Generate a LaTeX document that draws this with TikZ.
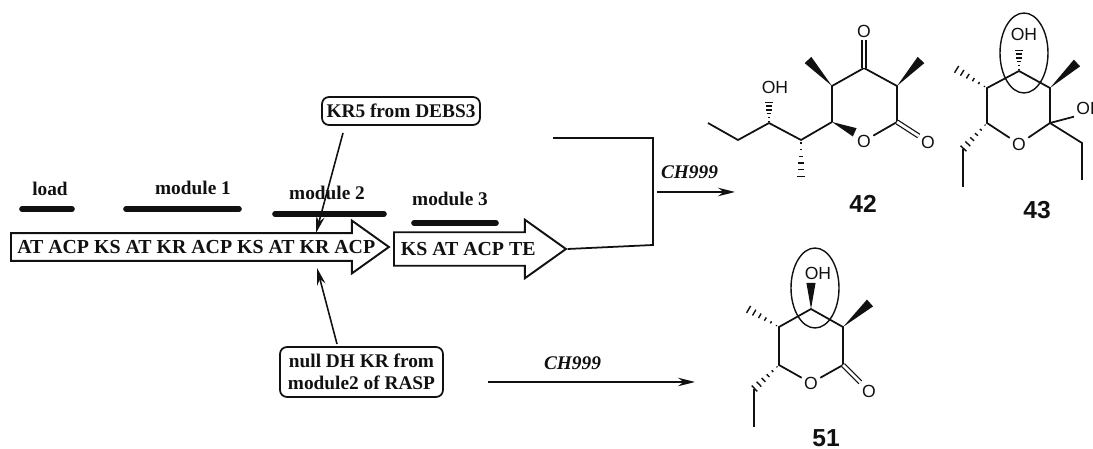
\documentclass[tikz,border=0pt]{standalone}
\usepackage{fontspec}
\setmainfont{Liberation Serif}
\setsansfont{Liberation Sans}
\usetikzlibrary{arrows.meta, positioning, calc, shapes.arrows, shapes.geometric}
\definecolor{Ink}{HTML}{111111}
\tikzset{
  genearrow/.style={draw=Ink, line width=1.1pt, single arrow, fill=white, align=center,
                    font=\fontsize{11.3}{13}\selectfont\bfseries, text=Ink, inner xsep=2pt, inner ysep=3.6pt,
                    single arrow tip angle=71, single arrow head indent=0pt},
  modbar/.style={line width=3.2pt, draw=Ink, line cap=round},
  modlab/.style={font=\fontsize{11}{13}\selectfont\bfseries, text=Ink},
  callbox/.style={draw=Ink, line width=1pt, rounded corners=4pt, align=center, inner sep=1.5pt,
                  font=\fontsize{11}{12.5}\selectfont\bfseries, text=Ink},
  thinarrow/.style={-{Stealth[length=3.4mm, width=1.7mm]}, line width=0.9pt, draw=Ink},
  hostlab/.style={font=\fontsize{11}{13}\selectfont\bfseries\itshape, text=Ink},
  atom/.style={font=\sffamily\fontsize{10}{12}\selectfont, text=Ink, inner sep=1.2pt},
  bond/.style={draw=Ink, line width=1pt},
  dblbond/.style={draw=Ink, line width=0.7pt, double, double distance=1.6pt},
  cmpd/.style={font=\sffamily\bfseries\fontsize{14}{15}\selectfont, text=Ink, inner sep=0pt},
  ringmark/.style={draw=Ink, line width=0.8pt, ellipse, minimum width=0.96cm, minimum height=1.6cm, inner sep=0pt},
}
\newcommand{\wedgebond}[2]{\fill[Ink] (#1) -- ($(#2)!2.6pt!90:(#1)$) -- ($(#2)!2.6pt!-90:(#1)$) -- cycle;}
\newcommand{\hashbond}[2]{%
  \foreach \t/\w in {0.08/0.3pt, 0.26/0.7pt, 0.44/1.1pt, 0.62/1.5pt, 0.80/1.9pt, 0.98/2.3pt}
    \draw[Ink, line width=0.8pt] ($(#1)!\t!(#2)!\w!90:(#2)$) -- ($(#1)!\t!(#2)!\w!-90:(#2)$);}
\begin{document}
\begin{tikzpicture}[x=0.02cm, y=-0.02cm]
  \useasboundingbox (0,0) rectangle (1093,449);
  % gene arrows
  \node[genearrow, anchor=west, minimum height=7.56cm, minimum width=1.02cm] (geneA) at (10,247)
    {\makebox[6.6cm][l]{\hspace*{-4.5pt}AT ACP KS AT KR ACP KS AT KR ACP}};
  \node[genearrow, anchor=west, minimum height=3.44cm, minimum width=1.12cm, inner ysep=5.2pt] (geneB) at (393,249)
    {KS AT ACP TE};
  % module bars
  \node[modlab] (lload) at (50,189) {load};
  \node[modlab] (lmodA) at (193,188) {module 1};
  \node[modlab] (lmodB) at (327,193) {module 2};
  \node[modlab] (lmodC) at (450,199) {module 3};
  \coordinate (loadL) at (22,209);  \coordinate (loadR) at (72,209);
  \coordinate (modAL) at (126,209); \coordinate (modAR) at (239,209);
  \coordinate (modBL) at (275,214); \coordinate (modBR) at (384,214);
  \coordinate (modCL) at (414,223); \coordinate (modCR) at (496,223);
  \draw[modbar] (loadL) -- (loadR);
  \draw[modbar] (modAL) -- (modAR);
  \draw[modbar] (modBL) -- (modBR);
  \draw[modbar] (modCL) -- (modCR);
  % swaps
  \node[callbox, minimum width=3.16cm, minimum height=0.56cm] (krfive) at (401,111) {KR5 from DEBS3};
  \node[callbox, minimum width=3.26cm, minimum height=1cm] (nulldh) at (361.5,372) {null DH KR from\\module2 of RASP};
  \coordinate (krfoot) at (343,133);
  \coordinate (krtip) at (316,233);
  \coordinate (nullfoot) at (337,344);
  \coordinate (nulltip) at (317,268);
  \draw[thinarrow] (krfoot) -- (krtip);
  \draw[thinarrow] (nullfoot) -- (nulltip);
  % routes to products
  \coordinate (jtop) at (653,138);
  \coordinate (jbot) at (653,245);
  \coordinate (stub) at (553,138);
  \coordinate (jmid) at (657,192);
  \coordinate (prodA) at (735,192);
  \coordinate (nullout) at (488,382);
  \coordinate (prodB) at (695,382);
  \draw[bond] (stub) -- (jtop) -- (jbot) -- (geneB.tip);
  \draw[thinarrow] (jmid) -- (prodA);
  \draw[thinarrow] (nullout) -- (prodB);
  \node[hostlab] (hostA) at (689.5,172) {CH999};
  \node[hostlab] (hostB) at (572.5,363) {CH999};

  % compound 42
  \coordinate (aa) at (864,68);  \coordinate (ab) at (832,86);  \coordinate (ac) at (832,122);
  \coordinate (ae) at (897,122); \coordinate (af) at (897,86);
  \node[atom] (ao) at (864,141) {O};
  \node[atom] (ak) at (864,31) {O};
  \node[atom] (ax) at (928,142) {O};
  \node[atom] (ah) at (775,87) {OH};
  \coordinate (am) at (808,60);  \coordinate (an) at (921,60);
  \coordinate (ap) at (801,140); \coordinate (aq) at (769,123);
  \coordinate (ar) at (738,140); \coordinate (as) at (708,123);
  \coordinate (at) at (801,177); \coordinate (au) at (769,102);
  \draw[bond] (ac) -- (ab) -- (aa) -- (af) -- (ae) -- (ao);
  \draw[dblbond] (aa) -- (ak);
  \draw[dblbond] (ae) -- (ax);
  \draw[bond] (ac) -- (ap) -- (aq) -- (ar) -- (as);
  \wedgebond{ab}{am}
  \wedgebond{af}{an}
  \wedgebond{ac}{ao.north west}
  \hashbond{aq}{au}
  \hashbond{ap}{at}
  \node[cmpd] (cpda) at (863,204) {42};

  % compound 43
  \coordinate (ba) at (1019,71); \coordinate (bb) at (987,88); \coordinate (bc) at (987,123);
  \coordinate (be) at (1050,123); \coordinate (bf) at (1050,88);
  \node[atom] (bo) at (1019,144) {O};
  \node[atom] (bh) at (1024,34) {OH};
  \node[atom, anchor=west] (bi) at (1074,108) {OH};
  \coordinate (bm) at (956,69);  \coordinate (bn) at (1077,63);
  \coordinate (bp) at (963,149); \coordinate (bq) at (963,187);
  \coordinate (br) at (1082,143); \coordinate (bs) at (1082,180);
  \coordinate (bu) at (1019,50);
  \draw[bond] (bo) -- (bc) -- (bb) -- (ba) -- (bf) -- (be) -- (bo);
  \draw[bond] (be) -- (bi.south west);
  \draw[bond] (be) -- (br) -- (bs);
  \draw[bond] (bp) -- (bq);
  \wedgebond{bf}{bn}
  \hashbond{ba}{bu}
  \hashbond{bb}{bm}
  \hashbond{bc}{bp}
  \node[ringmark] (circb) at (1024,53) {};
  \node[cmpd] (cpdb) at (1037,210) {43};

  % compound 51
  \coordinate (ca) at (811,309); \coordinate (cb) at (779,327); \coordinate (cc) at (779,365);
  \coordinate (ce) at (843,365); \coordinate (cf) at (843,327);
  \node[atom] (co) at (811,383) {O};
  \node[atom] (cx) at (869,391) {O};
  \node[atom] (ch) at (818,273) {OH};
  \coordinate (cm) at (748,309); \coordinate (cn) at (870,303);
  \coordinate (cp) at (754,389); \coordinate (cq) at (754,427);
  \coordinate (cu) at (811,283);
  \draw[bond] (co) -- (cc) -- (cb) -- (ca) -- (cf) -- (ce) -- (co);
  \draw[dblbond] (ce) -- (cx);
  \draw[bond] (cp) -- (cq);
  \wedgebond{cf}{cn}
  \wedgebond{ca}{cu}
  \hashbond{cb}{cm}
  \hashbond{cc}{cp}
  \node[ringmark] (circc) at (815,288) {};
  \node[cmpd] (cpdc) at (826,438) {51};
\end{tikzpicture}
\end{document}
